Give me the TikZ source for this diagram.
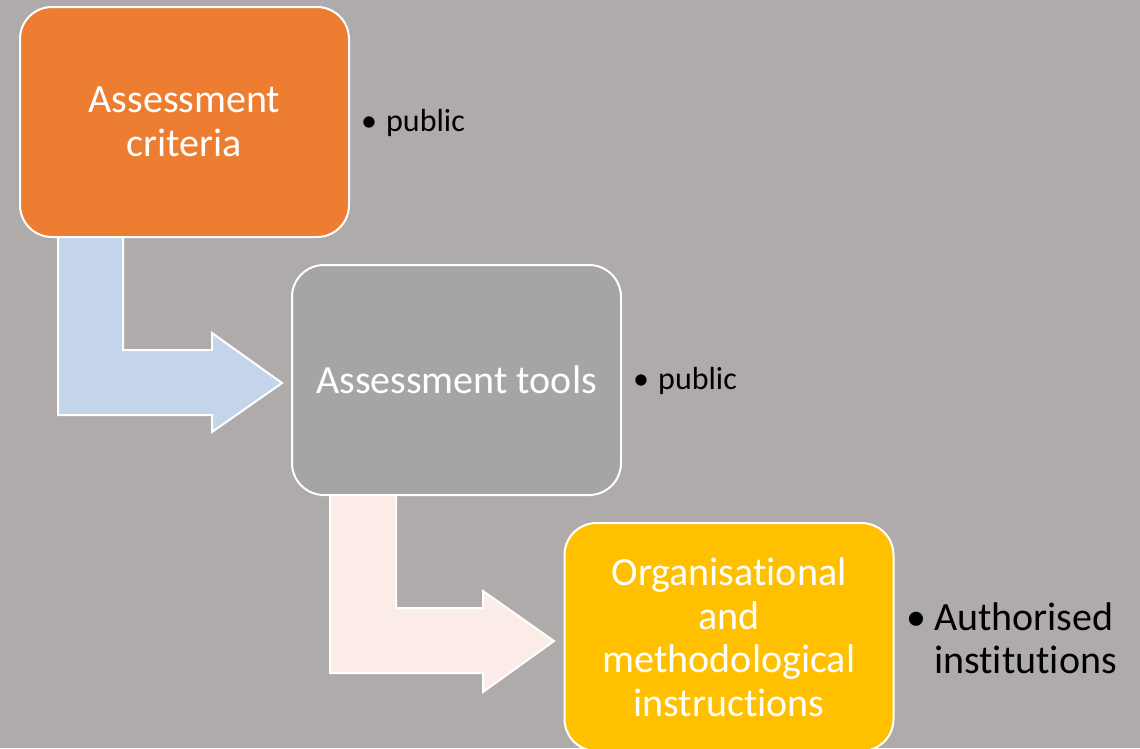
\documentclass[tikz,border=0pt]{standalone}
\usepackage{fontspec}
\setmainfont{Carlito}[Ligatures=NoCommon]
\definecolor{bg}{HTML}{AFABAB}
\definecolor{orangebox}{HTML}{ED7D31}
\definecolor{graybox}{HTML}{A5A5A5}
\definecolor{goldbox}{HTML}{FFC000}
\definecolor{bluearrow}{HTML}{C4D4EA}
\definecolor{pinkarrow}{HTML}{FBECE7}
\begin{document}
\begin{tikzpicture}[x=1pt,y=-1pt,
  stagebox/.style={rectangle, rounded corners=32pt, draw=white, line width=2pt,
    minimum width=329pt, minimum height=230pt, text=white, align=center,
    font=\fontsize{40}{43.5}\selectfont, inner sep=0pt},
  bentarrow/.style={draw=white, line width=2pt, line join=miter},
  smallnote/.style={anchor=base west, inner sep=0pt, font=\fontsize{32}{36}\selectfont},
  bignote/.style={anchor=base west, inner sep=0pt, align=left, font=\fontsize{40}{43}\selectfont}]
\useasboundingbox (0,0) rectangle (1140,748);
\fill[bg] (0,0) rectangle (1140,748);
\begin{scope}
\clip (0,0) rectangle (1140,748);
% bent arrows (drawn beneath boxes)
\draw[bentarrow, fill=bluearrow] (58,230) -- (123,230) -- (123,350) -- (212,350) -- (212,333)
  -- (282,383) -- (212,432) -- (212,415) -- (58,415) -- cycle;
\draw[bentarrow, fill=pinkarrow] (330,488) -- (396,488) -- (396,608) -- (483,608) -- (483,591)
  -- (554,641) -- (483,692) -- (483,673) -- (330,673) -- cycle;
% boxes
\node[stagebox, fill=orangebox] (crit) at (184.5,122) {Assessment\\criteria};
\node[stagebox, fill=graybox] (tools) at (456.5,380) {Assessment tools};
\node[stagebox, fill=goldbox, minimum height=228pt] (instr) at (729,637)
  {Organisational\\and\\methodological\\instructions};
\end{scope}
% notes
\node[smallnote] (n1) at (361,131) {\makebox[25pt][l]{•}public};
\node[smallnote] (n2) at (633,389) {\makebox[25pt][l]{•}public};
\node[bignote] (n3) at (906,673) {\makebox[28pt][l]{•}Authorised\\\hspace*{28pt}institutions};
\end{tikzpicture}
\end{document}
